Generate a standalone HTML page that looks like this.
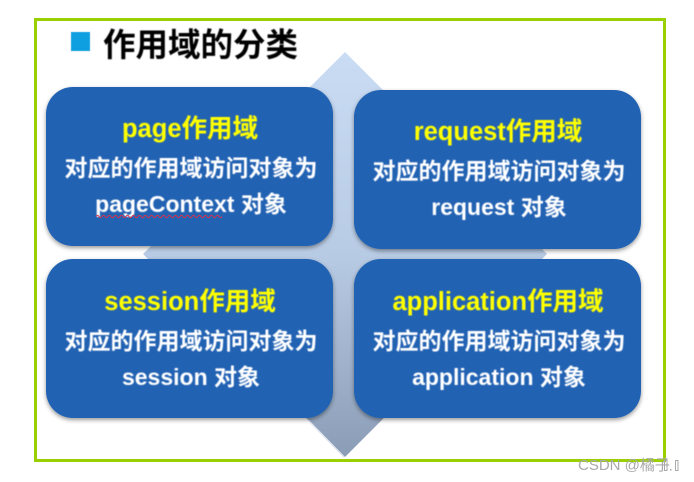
<!DOCTYPE html>
<html>
<head>
<meta charset="utf-8">
<style>
html,body{margin:0;padding:0;background:#fff;width:694px;height:482px;overflow:hidden}
svg{display:block}
text{font-family:"Liberation Sans","Noto Sans CJK SC",sans-serif;font-weight:700;text-anchor:middle}
.h{fill:#ffff00;font-size:25.5px}
.t{fill:#fff;font-size:23px}
</style>
</head>
<body>
<svg width="694" height="482" viewBox="0 0 694 482" xmlns="http://www.w3.org/2000/svg">
<defs>
<linearGradient id="g" x1="0" y1="0" x2="0" y2="1">
<stop offset="0" stop-color="#c9dcf4"/>
<stop offset=".5" stop-color="#b8cbe4"/>
<stop offset="1" stop-color="#8b9db6"/>
</linearGradient>
<filter id="s" x="-5%" y="-5%" width="110%" height="112%">
<feDropShadow dx="0" dy="2" stdDeviation="2" flood-color="#000" flood-opacity=".4"/>
</filter>
<filter id="b" x="-5%" y="-5%" width="110%" height="110%"><feGaussianBlur stdDeviation=".4"/></filter>
</defs>
<rect x="35.500" y="19.500" width="629" height="441" fill="#fff" stroke="#9bd000" stroke-width="3"/>
<polygon points="345,52 547,254 345,457 143,254" fill="url(#g)"/>
<line x1="308" y1="420" x2="344" y2="457" stroke="#dfe5f0" stroke-width="1.500"/>
<rect x="71" y="32" width="19" height="19" fill="#0e9fe0" stroke="#8fd0f0" stroke-width=".6"/>
<text x="200.500" y="56" fill="#000" style="font-size:32.500px" filter="url(#b)">作用域的分类</text>
<g fill="#2062b3" filter="url(#s)">
<rect x="46" y="87" width="287" height="159" rx="27"/>
<rect x="354" y="90" width="287" height="159" rx="27"/>
<rect x="46" y="259" width="287" height="159" rx="27"/>
<rect x="354" y="259" width="287" height="159" rx="27"/>
</g>
<g filter="url(#b)">
<text class="h" x="190" y="137">page作用域</text>
<text class="t" x="191" y="176">对应的作用域访问对象为</text>
<text class="t" x="191" y="212">pageContext 对象</text>
<text class="h" x="498" y="140">request作用域</text>
<text class="t" x="499" y="179">对应的作用域访问对象为</text>
<text class="t" x="499" y="215">request 对象</text>
<text class="h" x="190" y="310">session作用域</text>
<text class="t" x="191" y="349">对应的作用域访问对象为</text>
<text class="t" x="191" y="385">session 对象</text>
<text class="h" x="498" y="310">application作用域</text>
<text class="t" x="499" y="349">对应的作用域访问对象为</text>
<text class="t" x="499" y="385">application 对象</text>
</g>
<path d="M96 216.500q1.500-2.500 3 0t3 0 3 0 3 0 3 0 3 0 3 0 3 0 3 0 3 0 3 0 3 0 3 0 3 0 3 0 3 0 3 0 3 0 3 0 3 0 3 0 3 0 3 0 3 0 3 0 3 0 3 0 3 0 3 0 3 0 3 0 3 0 3 0 3 0 3 0 3 0 3 0 3 0 3 0 3 0 3 0 3 0" fill="none" stroke="#d8344f" stroke-width="1"/>
<text x="578" y="470" style="font-size:15px;font-weight:400;fill:#a9a9a9;text-anchor:start">CSDN @橘子</text>
<rect x="664.500" y="460.500" width="2.500" height="10" fill="none" stroke="#a9a9a9"/>
<rect x="670" y="469" width="1.500" height="1.500" fill="#a9a9a9"/>
<rect x="675.500" y="460.500" width="2.500" height="10" fill="none" stroke="#a9a9a9"/>
</svg>
</body>
</html>
